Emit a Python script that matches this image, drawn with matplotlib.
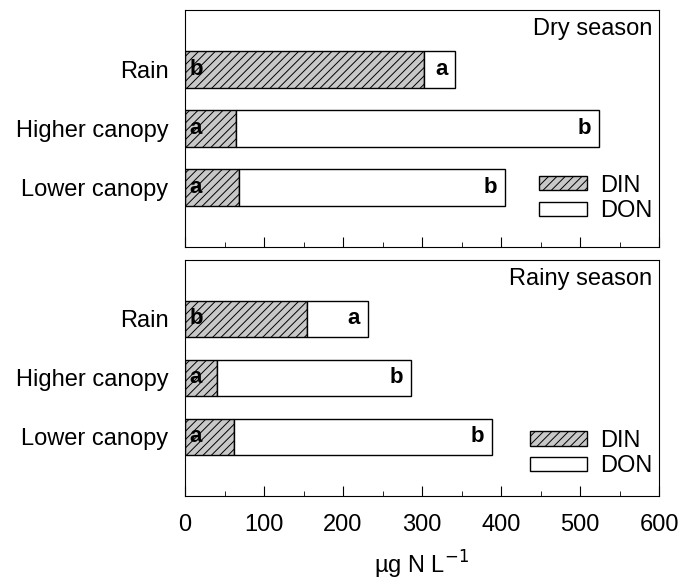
import matplotlib
matplotlib.use("Agg")
import matplotlib.pyplot as plt
from matplotlib.ticker import MultipleLocator

plt.rcParams["font.family"] = ["Liberation Sans", "DejaVu Sans"]
plt.rcParams["hatch.linewidth"] = 0.7

categories = ["Lower canopy", "Higher canopy", "Rain"]

# concentrations, µg N per litre
dry_din = [68, 65, 302]
dry_don = [337, 459, 40]
rainy_din = [62, 40, 155]
rainy_don = [326, 246, 76]

# significance letters
din_letters = ["a", "a", "b"]
don_letters = ["b", "b", "a"]

seasons = ["Dry season", "Rainy season"]

fig = plt.figure(figsize=(6.81, 5.84), dpi=100)
ax_top = fig.add_axes([0.2717, 0.577, 0.696, 0.406])
ax_bot = fig.add_axes([0.2717, 0.151, 0.696, 0.404])

gray = "#c8c8c8"


def draw_panel(ax, din, don, title, show_xlabels, leg_anchor, leg_len):
    y = range(len(categories))
    b1 = ax.barh(y, din, height=0.62, color=gray, edgecolor="black",
                 hatch="////", linewidth=1.0, label="DIN")
    b2 = ax.barh(y, don, left=din, height=0.62, color="white",
                 edgecolor="black", linewidth=1.0, label="DON")

    for i in y:
        ax.text(6, i, din_letters[i], ha="left", va="center",
                fontsize=16, fontweight="bold")
        ax.text(din[i] + don[i] - 10, i, don_letters[i], ha="right",
                va="center", fontsize=16, fontweight="bold")

    ax.set_xlim(0, 600)
    ax.set_ylim(-1, 3)
    ax.set_yticks(list(y))
    ax.set_yticklabels(categories, fontsize=17)
    ax.tick_params(axis="y", length=0, pad=12)
    ax.xaxis.set_major_locator(MultipleLocator(100))
    ax.xaxis.set_minor_locator(MultipleLocator(50))
    ax.tick_params(axis="x", which="major", direction="in", length=7,
                   pad=13, labelsize=17)
    ax.tick_params(axis="x", which="minor", direction="in", length=3.6)
    if not show_xlabels:
        ax.tick_params(axis="x", labelbottom=False)

    ax.text(0.985, 0.965, title, transform=ax.transAxes, ha="right",
            va="top", fontsize=17)

    ax.legend([b1, b2], ["DIN", "DON"], loc="upper right",
              bbox_to_anchor=leg_anchor, frameon=False, fontsize=17,
              handlelength=leg_len, handleheight=0.55, handletextpad=0.55,
              labelspacing=0.15, borderpad=0, borderaxespad=0)


draw_panel(ax_top, dry_din, dry_don, seasons[0], False, (0.985, 0.305), 2.0)
draw_panel(ax_bot, rainy_din, rainy_don, seasons[1], True, (0.985, 0.28), 2.4)

ax_bot.set_xlabel("µg N L$^{-1}$", fontsize=17, labelpad=9)

fig.savefig("out.png", dpi=100)
